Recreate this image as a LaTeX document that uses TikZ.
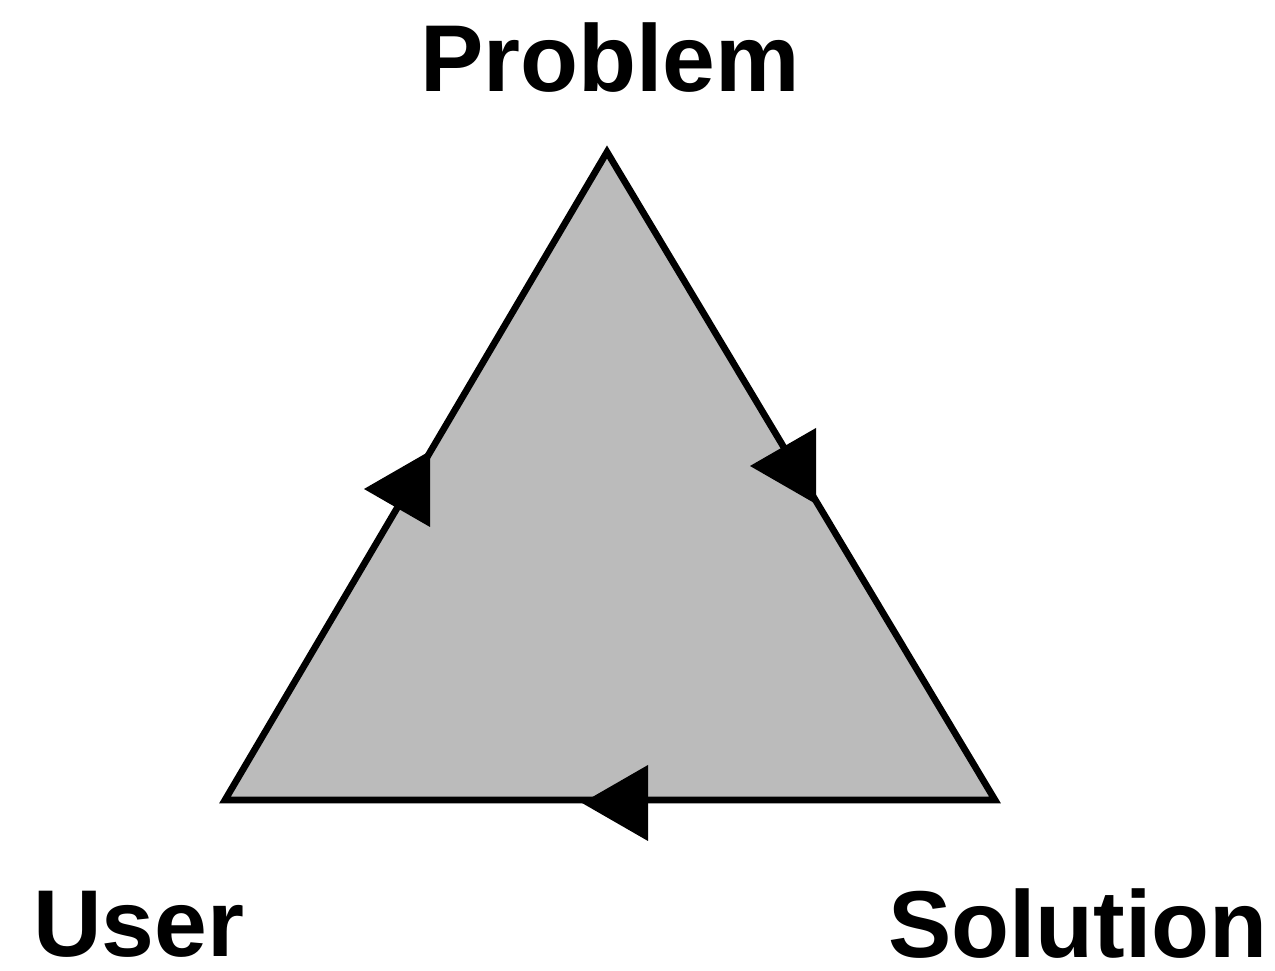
\documentclass[tikz,border=0pt]{standalone}
\usepackage{fontspec}
\setmainfont{Liberation Sans}
\usepackage{xcolor}
\usetikzlibrary{positioning}
\definecolor{facegray}{HTML}{bbbbbb}

\begin{document}
\begin{tikzpicture}[
    x=0.01cm, y=-0.01cm,
    label/.style={anchor=base, inner sep=0pt, font=\fontsize{27}{32}\selectfont\bfseries},
    edge/.style={draw=black, line width=1.9pt, line join=miter},
    head/.style={fill=black},
]
\useasboundingbox (0,0) rectangle (1275,971);

\coordinate (top) at (607,152);
\coordinate (left) at (225,800);
\coordinate (right) at (995,800);

\fill[facegray] (left) -- (top) -- (right) -- cycle;
\draw[edge] (left) -- (top) -- (right) -- cycle;

% arrowheads, centred on the edges
\coordinate (upHead) at (408,489);
\coordinate (downHead) at (794,466);
\coordinate (backHead) at (626,803);
\foreach \h in {upHead,downHead,backHead}
  \fill[head] (\h) ++(-44,0) -- ++(66,-38) -- ++(0,76) -- cycle;

\node[label] (problem) at (610,92) {Problem};
\node[label] (user) at (139,957) {User};
\node[label] (solution) at (1078,958) {Solution};

\end{tikzpicture}
\end{document}
